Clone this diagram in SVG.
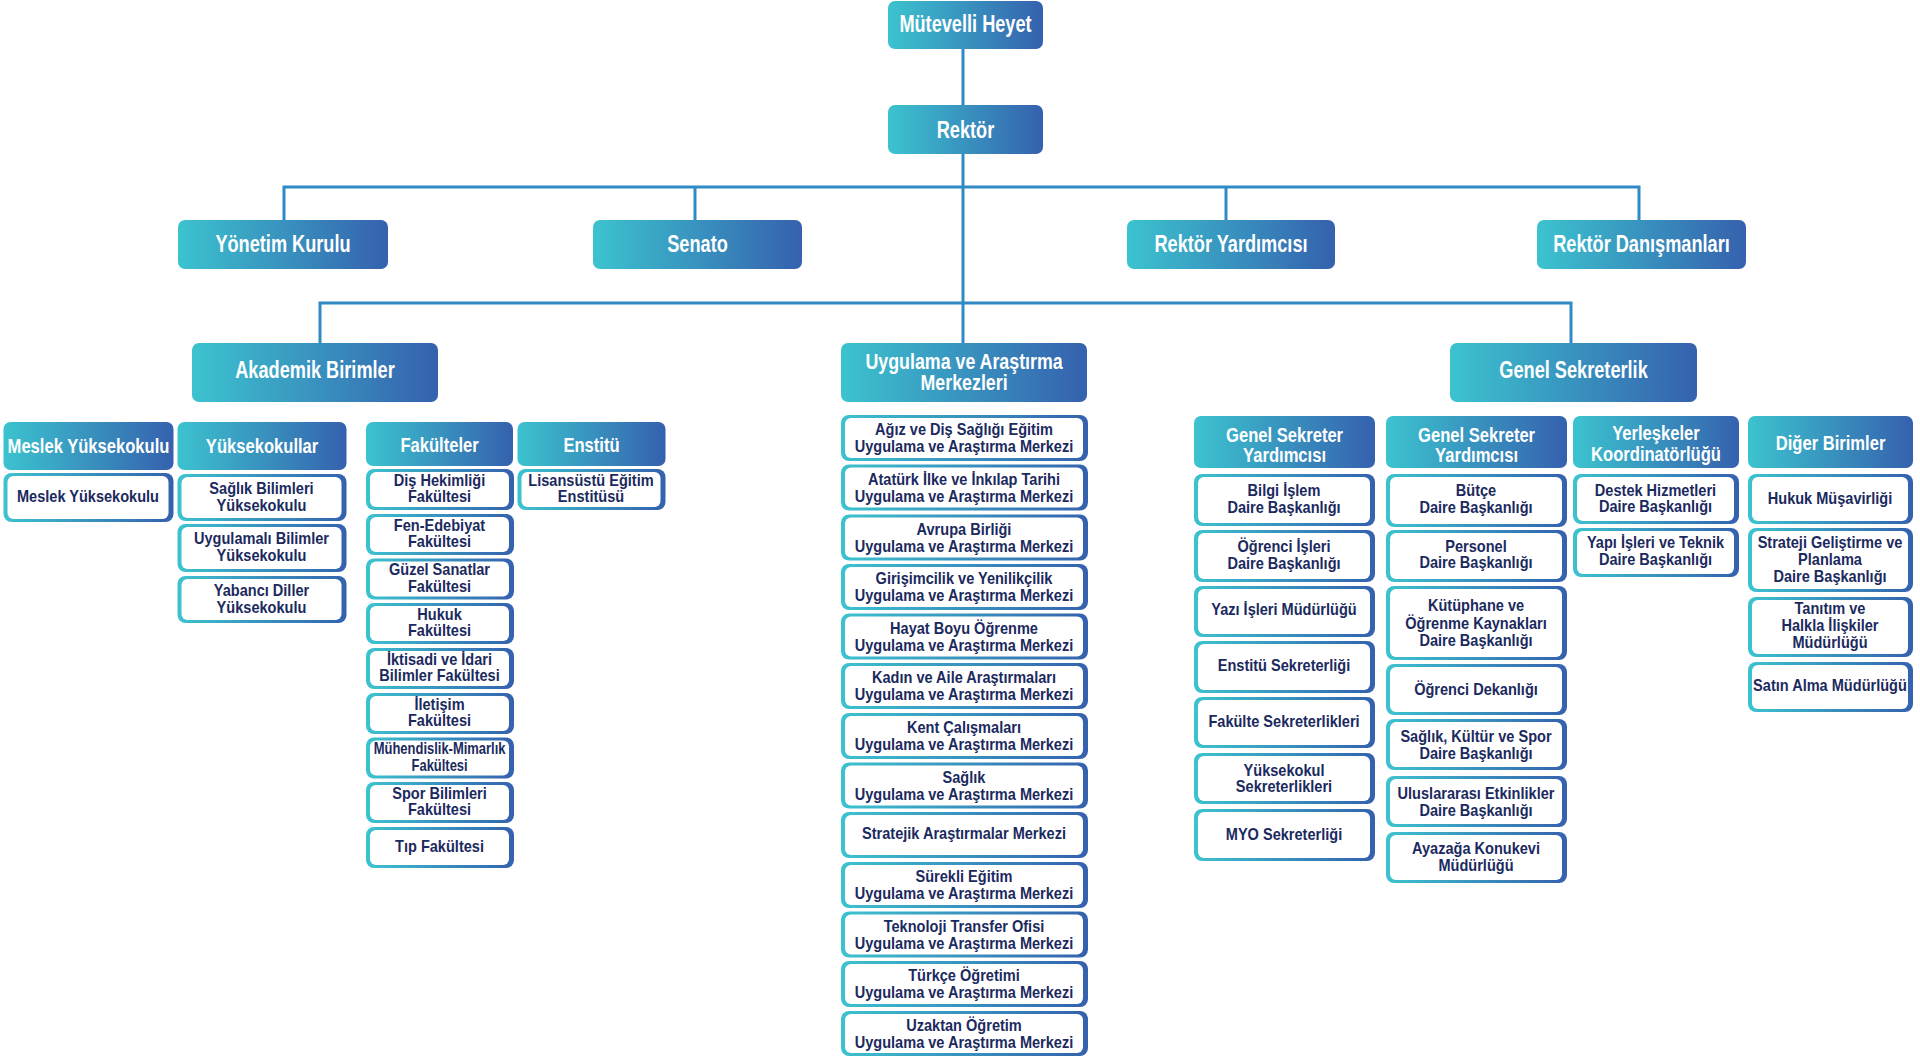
<svg xmlns="http://www.w3.org/2000/svg" width="1920" height="1057" viewBox="0 0 1920 1057">
<defs>
<linearGradient id="g" x1="0" y1="0" x2="1" y2="0">
<stop offset="0" stop-color="#3CC3CF"/>
<stop offset="1" stop-color="#3561AE"/>
</linearGradient>
<style>
.h{fill:url(#g)}
.cb{fill:url(#g)}
.ci{fill:#ffffff}
.t1,.t2,.ct{font-family:"Liberation Sans",Arial,sans-serif;font-weight:700;text-anchor:middle;transform-box:fill-box;transform-origin:center}
.t1{fill:#ffffff;font-size:23px;transform:scaleX(.79)}
.t1.two{font-size:22px;transform:scaleX(.81)}
.t2{fill:#ffffff;font-size:21px;transform:scaleX(.79)}
.ct{fill:#1B2A5E;font-size:16px;transform:scaleX(.91)}
.ct.sm{transform:scaleX(.81)}
</style>
</defs>
<rect width="1920" height="1057" fill="#ffffff"/>

<g id="connectors" stroke="#2F8AC6" stroke-width="3" fill="none">
<path d="M963 49V343"/>
<path d="M284 220V187H1639V220"/>
<path d="M695 187V220"/>
<path d="M1226 187V220"/>
<path d="M320 343V303H1571V343"/>
</g>

<g id="mutevelli"><rect class="h" x="888" y="1" width="155" height="48" rx="7"/><text class="t1" x="965.5" y="32">Mütevelli Heyet</text></g>
<g id="rektor"><rect class="h" x="888" y="105" width="155" height="49" rx="7"/><text class="t1" x="965.5" y="138">Rektör</text></g>
<g id="yonetim"><rect class="h" x="178" y="220" width="210" height="49" rx="7"/><text class="t1" x="283" y="252.5">Yönetim Kurulu</text></g>
<g id="senato"><rect class="h" x="593" y="220" width="209" height="49" rx="7"/><text class="t1" x="697.5" y="252.5">Senato</text></g>
<g id="rektor-yrd"><rect class="h" x="1127" y="220" width="208" height="49" rx="7"/><text class="t1" x="1231" y="252.5">Rektör Yardımcısı</text></g>
<g id="rektor-dan"><rect class="h" x="1537" y="220" width="209" height="49" rx="7"/><text class="t1" x="1641.5" y="252.5">Rektör Danışmanları</text></g>
<g id="akademik"><rect class="h" x="192" y="343" width="246" height="59" rx="7"/><text class="t1" x="315" y="378">Akademik Birimler</text></g>
<g id="uam"><rect class="h" x="841" y="343" width="246" height="59" rx="7"/><text class="t1 two"><tspan x="964" y="369">Uygulama ve Araştırma</tspan><tspan x="964" y="390">Merkezleri</tspan></text></g>
<g id="genel-sek"><rect class="h" x="1450" y="343" width="247" height="59" rx="7"/><text class="t1" x="1573.5" y="378">Genel Sekreterlik</text></g>

<g id="meslek-h"><rect class="h" x="3.5" y="422" width="170" height="48" rx="7"/><text class="t2" x="88.5" y="453.5">Meslek Yüksekokulu</text></g>
<g id="yuksekokullar-h"><rect class="h" x="177.5" y="422" width="169" height="48" rx="7"/><text class="t2" x="262" y="453.5">Yüksekokullar</text></g>
<g id="fakulteler-h"><rect class="h" x="366" y="422" width="147" height="44" rx="7"/><text class="t2" x="439.5" y="452">Fakülteler</text></g>
<g id="enstitu-h"><rect class="h" x="517.5" y="422" width="148" height="44" rx="7"/><text class="t2" x="591.5" y="452">Enstitü</text></g>

<g id="meslek-1"><rect class="cb" x="3.5" y="473" width="170" height="49" rx="8"/><rect class="ci" x="7.5" y="476" width="161" height="43" rx="6"/><text class="ct" x="88" y="502.5">Meslek Yüksekokulu</text></g>

<g id="yo-1"><rect class="cb" x="177.5" y="474" width="169" height="47" rx="8"/><rect class="ci" x="181.5" y="477" width="160" height="41" rx="6"/><text class="ct"><tspan x="261.5" y="494.5">Sağlık Bilimleri</tspan><tspan x="261.5" y="511.5">Yüksekokulu</tspan></text></g>
<g id="yo-2"><rect class="cb" x="177.5" y="524" width="169" height="48" rx="8"/><rect class="ci" x="181.5" y="527" width="160" height="42" rx="6"/><text class="ct"><tspan x="261.5" y="544.5">Uygulamalı Bilimler</tspan><tspan x="261.5" y="561.5">Yüksekokulu</tspan></text></g>
<g id="yo-3"><rect class="cb" x="177.5" y="576" width="169" height="47" rx="8"/><rect class="ci" x="181.5" y="579" width="160" height="41" rx="6"/><text class="ct"><tspan x="261.5" y="596">Yabancı Diller</tspan><tspan x="261.5" y="613">Yüksekokulu</tspan></text></g>

<g id="fak-1"><rect class="cb" x="366" y="469" width="148" height="41" rx="8"/><rect class="ci" x="370" y="472" width="139" height="35" rx="6"/><text class="ct"><tspan x="439.5" y="486">Diş Hekimliği</tspan><tspan x="439.5" y="502.5">Fakültesi</tspan></text></g>
<g id="fak-2"><rect class="cb" x="366" y="514" width="148" height="41" rx="8"/><rect class="ci" x="370" y="517" width="139" height="35" rx="6"/><text class="ct"><tspan x="439.5" y="531">Fen-Edebiyat</tspan><tspan x="439.5" y="547.5">Fakültesi</tspan></text></g>
<g id="fak-3"><rect class="cb" x="366" y="558.5" width="148" height="41" rx="8"/><rect class="ci" x="370" y="561.5" width="139" height="35" rx="6"/><text class="ct"><tspan x="439.5" y="575.5">Güzel Sanatlar</tspan><tspan x="439.5" y="592">Fakültesi</tspan></text></g>
<g id="fak-4"><rect class="cb" x="366" y="603" width="148" height="41" rx="8"/><rect class="ci" x="370" y="606" width="139" height="35" rx="6"/><text class="ct"><tspan x="439.5" y="620">Hukuk</tspan><tspan x="439.5" y="636.5">Fakültesi</tspan></text></g>
<g id="fak-5"><rect class="cb" x="366" y="648" width="148" height="41" rx="8"/><rect class="ci" x="370" y="651" width="139" height="35" rx="6"/><text class="ct"><tspan x="439.5" y="665">İktisadi ve İdari</tspan><tspan x="439.5" y="681.5">Bilimler Fakültesi</tspan></text></g>
<g id="fak-6"><rect class="cb" x="366" y="693" width="148" height="41" rx="8"/><rect class="ci" x="370" y="696" width="139" height="35" rx="6"/><text class="ct"><tspan x="439.5" y="710">İletişim</tspan><tspan x="439.5" y="726.5">Fakültesi</tspan></text></g>
<g id="fak-7"><rect class="cb" x="366" y="737.5" width="148" height="41" rx="8"/><rect class="ci" x="370" y="740.5" width="139" height="35" rx="6"/><text class="ct sm"><tspan x="439.5" y="754.5">Mühendislik-Mimarlık</tspan><tspan x="439.5" y="771">Fakültesi</tspan></text></g>
<g id="fak-8"><rect class="cb" x="366" y="782" width="148" height="41" rx="8"/><rect class="ci" x="370" y="785" width="139" height="35" rx="6"/><text class="ct"><tspan x="439.5" y="799">Spor Bilimleri</tspan><tspan x="439.5" y="815.5">Fakültesi</tspan></text></g>
<g id="fak-9"><rect class="cb" x="366" y="827" width="148" height="41" rx="8"/><rect class="ci" x="370" y="830" width="139" height="35" rx="6"/><text class="ct" x="439.5" y="852.5">Tıp Fakültesi</text></g>

<g id="enst-1"><rect class="cb" x="517.5" y="469" width="148" height="41" rx="8"/><rect class="ci" x="521.5" y="472" width="139" height="35" rx="6"/><text class="ct"><tspan x="591" y="486">Lisansüstü Eğitim</tspan><tspan x="591" y="502.5">Enstitüsü</tspan></text></g>

<g id="uam-1"><rect class="cb" x="841" y="415" width="247" height="46" rx="8"/><rect class="ci" x="845" y="418" width="238" height="40" rx="6"/><text class="ct"><tspan x="964" y="435.5">Ağız ve Diş Sağlığı Eğitim</tspan><tspan x="964" y="452.5">Uygulama ve Araştırma Merkezi</tspan></text></g>
<g id="uam-2"><rect class="cb" x="841" y="464.5" width="247" height="46" rx="8"/><rect class="ci" x="845" y="467.5" width="238" height="40" rx="6"/><text class="ct"><tspan x="964" y="485">Atatürk İlke ve İnkılap Tarihi</tspan><tspan x="964" y="502">Uygulama ve Araştırma Merkezi</tspan></text></g>
<g id="uam-3"><rect class="cb" x="841" y="514.5" width="247" height="46" rx="8"/><rect class="ci" x="845" y="517.5" width="238" height="40" rx="6"/><text class="ct"><tspan x="964" y="535">Avrupa Birliği</tspan><tspan x="964" y="552">Uygulama ve Araştırma Merkezi</tspan></text></g>
<g id="uam-4"><rect class="cb" x="841" y="564" width="247" height="46" rx="8"/><rect class="ci" x="845" y="567" width="238" height="40" rx="6"/><text class="ct"><tspan x="964" y="584.5">Girişimcilik ve Yenilikçilik</tspan><tspan x="964" y="601.5">Uygulama ve Araştırma Merkezi</tspan></text></g>
<g id="uam-5"><rect class="cb" x="841" y="613.5" width="247" height="46" rx="8"/><rect class="ci" x="845" y="616.5" width="238" height="40" rx="6"/><text class="ct"><tspan x="964" y="634">Hayat Boyu Öğrenme</tspan><tspan x="964" y="651">Uygulama ve Araştırma Merkezi</tspan></text></g>
<g id="uam-6"><rect class="cb" x="841" y="663" width="247" height="46" rx="8"/><rect class="ci" x="845" y="666" width="238" height="40" rx="6"/><text class="ct"><tspan x="964" y="683.5">Kadın ve Aile Araştırmaları</tspan><tspan x="964" y="700.5">Uygulama ve Araştırma Merkezi</tspan></text></g>
<g id="uam-7"><rect class="cb" x="841" y="713" width="247" height="46" rx="8"/><rect class="ci" x="845" y="716" width="238" height="40" rx="6"/><text class="ct"><tspan x="964" y="733.5">Kent Çalışmaları</tspan><tspan x="964" y="750.5">Uygulama ve Araştırma Merkezi</tspan></text></g>
<g id="uam-8"><rect class="cb" x="841" y="762.5" width="247" height="46" rx="8"/><rect class="ci" x="845" y="765.5" width="238" height="40" rx="6"/><text class="ct"><tspan x="964" y="783">Sağlık</tspan><tspan x="964" y="800">Uygulama ve Araştırma Merkezi</tspan></text></g>
<g id="uam-9"><rect class="cb" x="841" y="812" width="247" height="46" rx="8"/><rect class="ci" x="845" y="815" width="238" height="40" rx="6"/><text class="ct" x="964" y="839.5">Stratejik Araştırmalar Merkezi</text></g>
<g id="uam-10"><rect class="cb" x="841" y="862" width="247" height="46" rx="8"/><rect class="ci" x="845" y="865" width="238" height="40" rx="6"/><text class="ct"><tspan x="964" y="882.5">Sürekli Eğitim</tspan><tspan x="964" y="899.5">Uygulama ve Araştırma Merkezi</tspan></text></g>
<g id="uam-11"><rect class="cb" x="841" y="911.5" width="247" height="46" rx="8"/><rect class="ci" x="845" y="914.5" width="238" height="40" rx="6"/><text class="ct"><tspan x="964" y="932">Teknoloji Transfer Ofisi</tspan><tspan x="964" y="949">Uygulama ve Araştırma Merkezi</tspan></text></g>
<g id="uam-12"><rect class="cb" x="841" y="961" width="247" height="46" rx="8"/><rect class="ci" x="845" y="964" width="238" height="40" rx="6"/><text class="ct"><tspan x="964" y="981.5">Türkçe Öğretimi</tspan><tspan x="964" y="998.5">Uygulama ve Araştırma Merkezi</tspan></text></g>
<g id="uam-13"><rect class="cb" x="841" y="1011" width="247" height="45" rx="8"/><rect class="ci" x="845" y="1014" width="238" height="39" rx="6"/><text class="ct"><tspan x="964" y="1031.5">Uzaktan Öğretim</tspan><tspan x="964" y="1048.5">Uygulama ve Araştırma Merkezi</tspan></text></g>

<g id="gsy1-h"><rect class="h" x="1194" y="416" width="181" height="52" rx="7"/><text class="t2"><tspan x="1284.5" y="442">Genel Sekreter</tspan><tspan x="1284.5" y="462">Yardımcısı</tspan></text></g>
<g id="gsy2-h"><rect class="h" x="1386" y="416" width="181" height="52" rx="7"/><text class="t2"><tspan x="1476.5" y="442">Genel Sekreter</tspan><tspan x="1476.5" y="462">Yardımcısı</tspan></text></g>
<g id="yerleske-h"><rect class="h" x="1573" y="416" width="166" height="52" rx="7"/><text class="t2"><tspan x="1656" y="440.5">Yerleşkeler</tspan><tspan x="1656" y="461">Koordinatörlüğü</tspan></text></g>
<g id="diger-h"><rect class="h" x="1748" y="416" width="165" height="52" rx="7"/><text class="t2" x="1830.5" y="450">Diğer Birimler</text></g>

<g id="gsy1-1"><rect class="cb" x="1194" y="474" width="181" height="52" rx="8"/><rect class="ci" x="1198" y="477" width="172" height="46" rx="6"/><text class="ct"><tspan x="1284" y="496.5">Bilgi İşlem</tspan><tspan x="1284" y="513.5">Daire Başkanlığı</tspan></text></g>
<g id="gsy1-2"><rect class="cb" x="1194" y="530" width="181" height="52" rx="8"/><rect class="ci" x="1198" y="533" width="172" height="46" rx="6"/><text class="ct"><tspan x="1284" y="552.5">Öğrenci İşleri</tspan><tspan x="1284" y="569.5">Daire Başkanlığı</tspan></text></g>
<g id="gsy1-3"><rect class="cb" x="1194" y="586" width="181" height="51" rx="8"/><rect class="ci" x="1198" y="589" width="172" height="45" rx="6"/><text class="ct" x="1284" y="615.5">Yazı İşleri Müdürlüğü</text></g>
<g id="gsy1-4"><rect class="cb" x="1194" y="641" width="181" height="52" rx="8"/><rect class="ci" x="1198" y="644" width="172" height="46" rx="6"/><text class="ct" x="1284" y="671">Enstitü Sekreterliği</text></g>
<g id="gsy1-5"><rect class="cb" x="1194" y="697" width="181" height="51" rx="8"/><rect class="ci" x="1198" y="700" width="172" height="45" rx="6"/><text class="ct" x="1284" y="727">Fakülte Sekreterlikleri</text></g>
<g id="gsy1-6"><rect class="cb" x="1194" y="753" width="181" height="51" rx="8"/><rect class="ci" x="1198" y="756" width="172" height="45" rx="6"/><text class="ct"><tspan x="1284" y="776">Yüksekokul</tspan><tspan x="1284" y="792.5">Sekreterlikleri</tspan></text></g>
<g id="gsy1-7"><rect class="cb" x="1194" y="809" width="181" height="52" rx="8"/><rect class="ci" x="1198" y="812" width="172" height="46" rx="6"/><text class="ct" x="1284" y="840">MYO Sekreterliği</text></g>

<g id="gsy2-1"><rect class="cb" x="1386" y="474" width="181" height="53" rx="8"/><rect class="ci" x="1390" y="477" width="172" height="47" rx="6"/><text class="ct"><tspan x="1476" y="496">Bütçe</tspan><tspan x="1476" y="513">Daire Başkanlığı</tspan></text></g>
<g id="gsy2-2"><rect class="cb" x="1386" y="530" width="181" height="52" rx="8"/><rect class="ci" x="1390" y="533" width="172" height="46" rx="6"/><text class="ct"><tspan x="1476" y="552">Personel</tspan><tspan x="1476" y="568.5">Daire Başkanlığı</tspan></text></g>
<g id="gsy2-3"><rect class="cb" x="1386" y="586" width="181" height="74" rx="8"/><rect class="ci" x="1390" y="589" width="172" height="68" rx="6"/><text class="ct"><tspan x="1476" y="611.5">Kütüphane ve</tspan><tspan x="1476" y="629">Öğrenme Kaynakları</tspan><tspan x="1476" y="646">Daire Başkanlığı</tspan></text></g>
<g id="gsy2-4"><rect class="cb" x="1386" y="664" width="181" height="51" rx="8"/><rect class="ci" x="1390" y="667" width="172" height="45" rx="6"/><text class="ct" x="1476" y="695">Öğrenci Dekanlığı</text></g>
<g id="gsy2-5"><rect class="cb" x="1386" y="719" width="181" height="51" rx="8"/><rect class="ci" x="1390" y="722" width="172" height="45" rx="6"/><text class="ct"><tspan x="1476" y="742">Sağlık, Kültür ve Spor</tspan><tspan x="1476" y="759">Daire Başkanlığı</tspan></text></g>
<g id="gsy2-6"><rect class="cb" x="1386" y="776" width="181" height="51" rx="8"/><rect class="ci" x="1390" y="779" width="172" height="45" rx="6"/><text class="ct"><tspan x="1476" y="799">Uluslararası Etkinlikler</tspan><tspan x="1476" y="816">Daire Başkanlığı</tspan></text></g>
<g id="gsy2-7"><rect class="cb" x="1386" y="832" width="181" height="51" rx="8"/><rect class="ci" x="1390" y="835" width="172" height="45" rx="6"/><text class="ct"><tspan x="1476" y="854.5">Ayazağa Konukevi</tspan><tspan x="1476" y="871">Müdürlüğü</tspan></text></g>

<g id="yer-1"><rect class="cb" x="1573" y="474" width="166" height="50" rx="8"/><rect class="ci" x="1577" y="477" width="157" height="44" rx="6"/><text class="ct"><tspan x="1655.5" y="496">Destek Hizmetleri</tspan><tspan x="1655.5" y="512.5">Daire Başkanlığı</tspan></text></g>
<g id="yer-2"><rect class="cb" x="1573" y="528" width="166" height="49" rx="8"/><rect class="ci" x="1577" y="531" width="157" height="43" rx="6"/><text class="ct"><tspan x="1655.5" y="548.5">Yapı İşleri ve Teknik</tspan><tspan x="1655.5" y="565">Daire Başkanlığı</tspan></text></g>

<g id="dig-1"><rect class="cb" x="1748" y="474" width="165" height="50" rx="8"/><rect class="ci" x="1752" y="477" width="156" height="44" rx="6"/><text class="ct" x="1830" y="504">Hukuk Müşavirliği</text></g>
<g id="dig-2"><rect class="cb" x="1748" y="528" width="165" height="64" rx="8"/><rect class="ci" x="1752" y="531" width="156" height="58" rx="6"/><text class="ct"><tspan x="1830" y="548.5">Strateji Geliştirme ve</tspan><tspan x="1830" y="565.5">Planlama</tspan><tspan x="1830" y="582.5">Daire Başkanlığı</tspan></text></g>
<g id="dig-3"><rect class="cb" x="1748" y="597" width="165" height="60" rx="8"/><rect class="ci" x="1752" y="600" width="156" height="54" rx="6"/><text class="ct"><tspan x="1830" y="614">Tanıtım ve</tspan><tspan x="1830" y="631">Halkla İlişkiler</tspan><tspan x="1830" y="648">Müdürlüğü</tspan></text></g>
<g id="dig-4"><rect class="cb" x="1748" y="662" width="165" height="50" rx="8"/><rect class="ci" x="1752" y="665" width="156" height="44" rx="6"/><text class="ct" x="1830" y="691.5">Satın Alma Müdürlüğü</text></g>
</svg>
